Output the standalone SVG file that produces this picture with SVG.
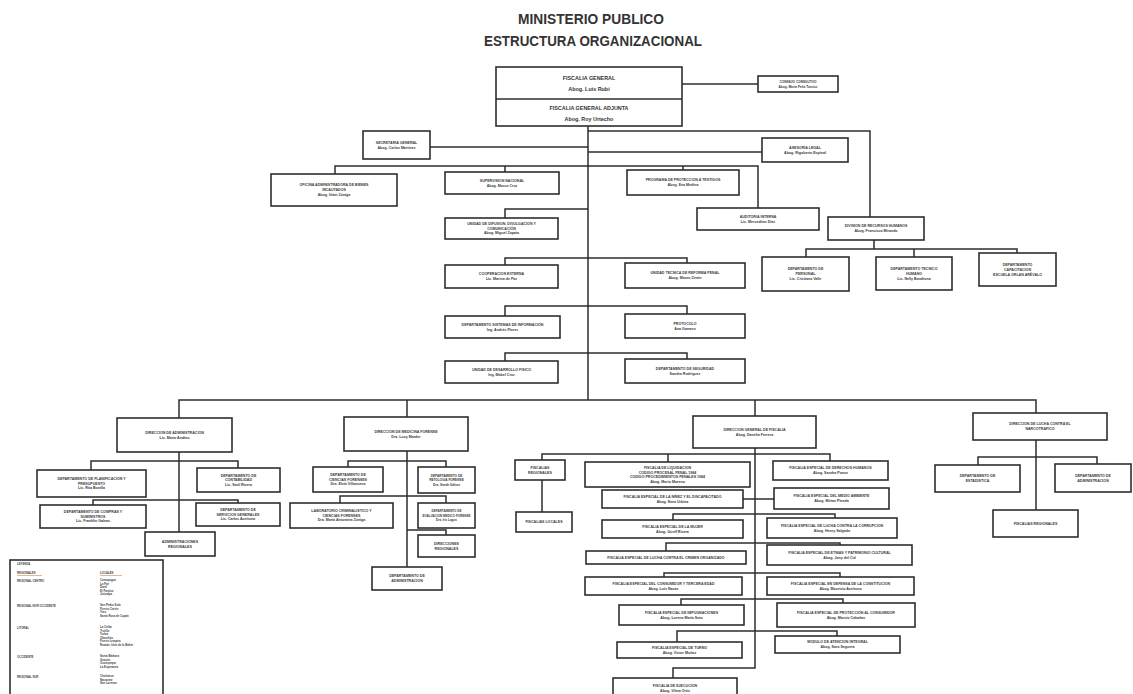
<svg xmlns="http://www.w3.org/2000/svg" width="1133" height="694" viewBox="0 0 1133 694">
<style>
.bg{fill:#ffffff}
.box{fill:#ffffff;stroke:#2e2e2e;stroke-width:1.6}
.ln{fill:none;stroke:#2e2e2e;stroke-width:1.5}
.title{font-family:"Liberation Sans",Arial,sans-serif;font-weight:bold;font-size:14px;fill:#333;text-anchor:middle}
.t{font-family:"Liberation Sans",Arial,sans-serif;font-weight:bold;font-size:3.6px;fill:#3a3a3a;text-anchor:middle}
.tb{font-family:"Liberation Sans",Arial,sans-serif;font-weight:bold;font-size:5.4px;fill:#333;text-anchor:middle}
.tl{font-family:"Liberation Sans",Arial,sans-serif;font-weight:bold;font-size:2.8px;fill:#444}
</style>
<rect class="bg" x="0" y="0" width="1133" height="694"/>
<g id="title">
<text class="title" x="591" y="24" textLength="146" lengthAdjust="spacingAndGlyphs">MINISTERIO PUBLICO</text>
<text class="title" x="593" y="46" textLength="218" lengthAdjust="spacingAndGlyphs">ESTRUCTURA ORGANIZACIONAL</text>
</g>
<g id="connectors">
<path class="ln" d="M682 84H758"/>
<path class="ln" d="M588 126V400"/>
<path class="ln" d="M430 147H588"/>
<path class="ln" d="M588 152H762"/>
<path class="ln" d="M588 131H870V217"/>
<path class="ln" d="M335 174V166H758V208M505 166V172M683 166V170"/>
<path class="ln" d="M874 240V249M806 257V249H1017V253M914 249V257"/>
<path class="ln" d="M588 209H505V218"/>
<path class="ln" d="M505 265V258H687V263"/>
<path class="ln" d="M505 316V306H687V314"/>
<path class="ln" d="M505 361V353H687V359"/>
<path class="ln" d="M179 418V400H1036V413M407 400V417M755 400V416"/>
<path class="ln" d="M179 452V532M91 470V461H238V468M93 505V500H238V503"/>
<path class="ln" d="M407 451V567M348 467V461H446V467M340 503V496H446V503M407 530H446V535"/>
<path class="ln" d="M755 448V668H673V678M542 460V454H830V461M668 454V462M542 480V512"/>
<path class="ln" d="M743 499H774"/>
<path class="ln" d="M673 520V514H835V518"/>
<path class="ln" d="M666 551V543H840V545"/>
<path class="ln" d="M664 577V573H840V577"/>
<path class="ln" d="M681 605V599H843V603"/>
<path class="ln" d="M677 642V631H837V636"/>
<path class="ln" d="M1036 440V510M978 465V457H1097V464"/>
</g>
<g id="fiscalia_general">
<rect class="box" x="496" y="67" width="186" height="59"/>
<path class="ln" d="M496 99H682"/>
<text class="tb" x="589" y="80"><tspan x="589">FISCALIA GENERAL</tspan><tspan x="589" dy="11">Abog. Luis Rubí</tspan></text>
<text class="tb" x="589" y="110"><tspan x="589">FISCALIA GENERAL ADJUNTA</tspan><tspan x="589" dy="11">Abog. Roy Urtecho</tspan></text>
</g>
<g id="consejo"><rect class="box" x="758" y="76" width="80" height="16"/>
<text class="t" style="font-size:3.2px" x="798" y="83"><tspan x="798">CONSEJO CONSULTIVO</tspan><tspan x="798" dy="4.5">Abog. María Peña Turcios</tspan></text></g>
<g id="secretaria"><rect class="box" x="363" y="131" width="67" height="28"/>
<text class="t" x="396.5" y="143.9"><tspan x="396.5">SECRETARIA GENERAL</tspan><tspan x="396.5" dy="5">Abog. Carlos Martínez</tspan></text></g>
<g id="asesoria"><rect class="box" x="762" y="138" width="86" height="24"/>
<text class="t" x="805" y="148.9"><tspan x="805">ASESORIA LEGAL</tspan><tspan x="805" dy="5">Abog. Rigoberto Espinal</tspan></text></g>
<g id="bienes"><rect class="box" x="271" y="174" width="126" height="32"/>
<text class="t" x="334" y="186.4"><tspan x="334">OFICINA ADMINISTRADORA DE BIENES</tspan><tspan x="334" dy="5">INCAUTADOS</tspan><tspan x="334" dy="5">Abog. Irlam Zúniga</tspan></text></g>
<g id="supervision"><rect class="box" x="445" y="172" width="114" height="22"/>
<text class="t" x="502" y="181.9"><tspan x="502">SUPERVISION NACIONAL</tspan><tspan x="502" dy="5">Abog. Marco Cruz</tspan></text></g>
<g id="proteccion"><rect class="box" x="627" y="170" width="112" height="25"/>
<text class="t" x="683" y="181.4"><tspan x="683">PROGRAMA DE PROTECCION A TESTIGOS</tspan><tspan x="683" dy="5">Abog. Eva Medina</tspan></text></g>
<g id="auditoria"><rect class="box" x="697" y="208" width="122" height="22"/>
<text class="t" x="758" y="217.9"><tspan x="758">AUDITORIA INTERNA</tspan><tspan x="758" dy="5">Lic. Merceditas Díaz</tspan></text></g>
<g id="rrhh"><rect class="box" x="828" y="217" width="96" height="23"/>
<text class="t" x="876" y="227.4"><tspan x="876">DIVISION DE RECURSOS HUMANOS</tspan><tspan x="876" dy="5">Abog. Francisco Mirando</tspan></text></g>
<g id="personal"><rect class="box" x="762" y="257" width="87" height="34"/>
<text class="t" x="805.5" y="270.4"><tspan x="805.5">DEPARTAMENTO DE</tspan><tspan x="805.5" dy="5">PERSONAL</tspan><tspan x="805.5" dy="5">Lic. Cristiana Valle</tspan></text></g>
<g id="tecnico_humano"><rect class="box" x="876" y="257" width="76" height="33"/>
<text class="t" x="914" y="269.9"><tspan x="914">DEPARTAMENTO TECNICO</tspan><tspan x="914" dy="5">HUMANO</tspan><tspan x="914" dy="5">Lic. Nelly Barahona</tspan></text></g>
<g id="capacitacion"><rect class="box" x="979" y="253" width="77" height="33"/>
<text class="t" x="1017.5" y="265.9"><tspan x="1017.5">DEPARTAMENTO</tspan><tspan x="1017.5" dy="5">CAPACITACION</tspan><tspan x="1017.5" dy="5">ESCUELA ORLAN ARÉVALO</tspan></text></g>
<g id="informacion"><rect class="box" x="445" y="218" width="113" height="21"/>
<text class="t" x="501.5" y="225.4"><tspan x="501.5">UNIDAD DE DIFUSION, DIVULGACION Y</tspan><tspan x="501.5" dy="4.5">COMUNICACIÓN</tspan><tspan x="501.5" dy="4.5">Abog. Miguel Zapata</tspan></text></g>
<g id="cooperacion"><rect class="box" x="445" y="265" width="113" height="23"/>
<text class="t" x="501.5" y="275.4"><tspan x="501.5">COOPERACION EXTERNA</tspan><tspan x="501.5" dy="5">Lic. Marina de Paz</tspan></text></g>
<g id="reforma"><rect class="box" x="625" y="263" width="120" height="25"/>
<text class="t" x="685" y="274.4"><tspan x="685">UNIDAD TECNICA DE REFORMA PENAL</tspan><tspan x="685" dy="5">Abog. Mauro Zerón</tspan></text></g>
<g id="sistemas"><rect class="box" x="445" y="316" width="115" height="22"/>
<text class="t" x="502.5" y="325.9"><tspan x="502.5">DEPARTAMENTO SISTEMAS DE INFORMACION</tspan><tspan x="502.5" dy="5">Ing. Andrés Flores</tspan></text></g>
<g id="protocolo"><rect class="box" x="625" y="314" width="120" height="24"/>
<text class="t" x="685" y="324.9"><tspan x="685">PROTOCOLO</tspan><tspan x="685" dy="5">Ana Gamero</tspan></text></g>
<g id="desarrollo"><rect class="box" x="445" y="361" width="113" height="22"/>
<text class="t" x="501.5" y="370.9"><tspan x="501.5">UNIDAD DE DESARROLLO FISICO</tspan><tspan x="501.5" dy="5">Ing. Mabel Cruz</tspan></text></g>
<g id="seguridad"><rect class="box" x="625" y="359" width="120" height="24"/>
<text class="t" x="685" y="369.9"><tspan x="685">DEPARTAMENTO DE SEGURIDAD</tspan><tspan x="685" dy="5">Sandra Rodríguez</tspan></text></g>
<g id="dir_administracion"><rect class="box" x="117" y="418" width="115" height="34"/>
<text class="t" x="174.5" y="433.9"><tspan x="174.5">DIRECCION DE ADMINISTRACION</tspan><tspan x="174.5" dy="5">Lic. Mario Andino</tspan></text></g>
<g id="dir_medicina"><rect class="box" x="344" y="417" width="124" height="34"/>
<text class="t" x="406" y="432.9"><tspan x="406">DIRECCION DE MEDICINA FORENSE</tspan><tspan x="406" dy="5">Dra. Lucy Marder</tspan></text></g>
<g id="dir_fiscalia"><rect class="box" x="693" y="416" width="123" height="32"/>
<text class="t" x="754.5" y="430.9"><tspan x="754.5">DIRECCION GENERAL DE FISCALIA</tspan><tspan x="754.5" dy="5">Abog. Danelia Ferrera</tspan></text></g>
<g id="dir_narcotrafico"><rect class="box" x="973" y="413" width="134" height="27"/>
<text class="t" x="1040" y="425.4"><tspan x="1040">DIRECCION DE LUCHA CONTRA EL</tspan><tspan x="1040" dy="5">NARCOTRAFICO</tspan></text></g>
<g id="planificacion"><rect class="box" x="37" y="470" width="109" height="27"/>
<text class="t" x="91.5" y="480.4"><tspan x="91.5">DEPARTAMENTO DE PLANIFICACION Y</tspan><tspan x="91.5" dy="4.5">PRESUPUESTO</tspan><tspan x="91.5" dy="4.5">Lic. Rita Bonilla</tspan></text></g>
<g id="contabilidad"><rect class="box" x="197" y="468" width="83" height="24"/>
<text class="t" x="238.5" y="476.9"><tspan x="238.5">DEPARTAMENTO DE</tspan><tspan x="238.5" dy="4.5">CONTABILIDAD</tspan><tspan x="238.5" dy="4.5">Lic. Saúl Rivera</tspan></text></g>
<g id="compras"><rect class="box" x="40" y="505" width="106" height="23"/>
<text class="t" x="93" y="513.4"><tspan x="93">DEPARTAMENTO DE COMPRAS Y</tspan><tspan x="93" dy="4.5">SUMINISTROS</tspan><tspan x="93" dy="4.5">Lic. Franklin Galeas</tspan></text></g>
<g id="servicios"><rect class="box" x="196" y="503" width="84" height="23"/>
<text class="t" x="238" y="511.4"><tspan x="238">DEPARTAMENTO DE</tspan><tspan x="238" dy="4.5">SERVICIOS GENERALES</tspan><tspan x="238" dy="4.5">Lic. Carlos Aceituno</tspan></text></g>
<g id="adm_regionales"><rect class="box" x="145" y="532" width="70" height="24"/>
<text class="t" x="180" y="542.9"><tspan x="180">ADMINISTRACIONES</tspan><tspan x="180" dy="5">REGIONALES</tspan></text></g>
<g id="ciencias"><rect class="box" x="313" y="467" width="70" height="25"/>
<text class="t" x="348" y="476.4"><tspan x="348">DEPARTAMENTO DE</tspan><tspan x="348" dy="4.5">CIENCIAS FORENSES</tspan><tspan x="348" dy="4.5">Dra. Elvia Villanueva</tspan></text></g>
<g id="patologia"><rect class="box" x="418" y="467" width="57" height="26"/>
<text class="t" style="font-size:3.2px" x="446.5" y="476.9"><tspan x="446.5">DEPARTAMENTO DE</tspan><tspan x="446.5" dy="4.5">PATOLOGIA FORENSE</tspan><tspan x="446.5" dy="4.5">Dra. Sarah Gálvez</tspan></text></g>
<g id="laboratorio"><rect class="box" x="290" y="503" width="103" height="25"/>
<text class="t" x="341.5" y="512.4"><tspan x="341.5">LABORATORIO CRIMINALISTICO Y</tspan><tspan x="341.5" dy="4.5">CIENCIAS FORENSES</tspan><tspan x="341.5" dy="4.5">Dra. María Antonieta Zúniga</tspan></text></g>
<g id="evaluacion"><rect class="box" x="418" y="503" width="57" height="25"/>
<text class="t" style="font-size:3px" x="446.5" y="512.4"><tspan x="446.5">DEPARTAMENTO DE</tspan><tspan x="446.5" dy="4.5">EVALUACION MEDICO FORENSE</tspan><tspan x="446.5" dy="4.5">Dra. Iris Lagos</tspan></text></g>
<g id="dir_regionales"><rect class="box" x="418" y="535" width="57" height="22"/>
<text class="t" x="446.5" y="544.9"><tspan x="446.5">DIRECCIONES</tspan><tspan x="446.5" dy="5">REGIONALES</tspan></text></g>
<g id="mf_administracion"><rect class="box" x="372" y="567" width="70" height="23"/>
<text class="t" x="407" y="577.4"><tspan x="407">DEPARTAMENTO DE</tspan><tspan x="407" dy="5">ADMINISTRACION</tspan></text></g>
<g id="fisc_regionales"><rect class="box" x="515" y="460" width="50" height="20"/>
<text class="t" x="540" y="468.9"><tspan x="540">FISCALIAS</tspan><tspan x="540" dy="5">REGIONALES</tspan></text></g>
<g id="fisc_locales"><rect class="box" x="516" y="512" width="56" height="20"/>
<text class="t" x="544" y="523.4">FISCALIAS LOCALES</text></g>
<g id="liquidacion"><rect class="box" x="585" y="462" width="165" height="25"/>
<text class="t" x="667.5" y="469.2"><tspan x="667.5">FISCALIA DE LIQUIDACION</tspan><tspan x="667.5" dy="4.5">CODIGO PROCESAL PENAL 1984</tspan><tspan x="667.5" dy="4.5">CODIGO PROCEDIMIENTOS PENALES 1984</tspan><tspan x="667.5" dy="4.5">Abog. Mario Moreno</tspan></text></g>
<g id="ddhh"><rect class="box" x="773" y="461" width="115" height="19"/>
<text class="t" x="830.5" y="469.4"><tspan x="830.5">FISCALIA ESPECIAL DE DERECHOS HUMANOS</tspan><tspan x="830.5" dy="5">Abog. Sandra Ponce</tspan></text></g>
<g id="ninez"><rect class="box" x="602" y="490" width="141" height="18"/>
<text class="t" x="672.5" y="497.9"><tspan x="672.5">FISCALIA ESPECIAL DE LA NIÑEZ Y EL DISCAPACITADO</tspan><tspan x="672.5" dy="5">Abog. Nora Urbina</tspan></text></g>
<g id="ambiente"><rect class="box" x="774" y="488" width="115" height="21"/>
<text class="t" x="831.5" y="497.4"><tspan x="831.5">FISCALIA ESPECIAL DEL MEDIO AMBIENTE</tspan><tspan x="831.5" dy="5">Abog. Mirian Pineda</tspan></text></g>
<g id="mujer"><rect class="box" x="602" y="520" width="141" height="18"/>
<text class="t" x="672.5" y="527.9"><tspan x="672.5">FISCALIA ESPECIAL DE LA MUJER</tspan><tspan x="672.5" dy="5">Abog. Gizell Rivera</tspan></text></g>
<g id="corrupcion"><rect class="box" x="767" y="518" width="130" height="20"/>
<text class="t" x="832" y="526.9"><tspan x="832">FISCALIA ESPECIAL DE LUCHA CONTRA LA CORRUPCION</tspan><tspan x="832" dy="5">Abog. Henry Salgado</tspan></text></g>
<g id="crimen"><rect class="box" x="586" y="551" width="160" height="13"/>
<text class="t" x="666" y="558.9">FISCALIA ESPECIAL DE LUCHA CONTRA EL CRIMEN ORGANIZADO</text></g>
<g id="etnias"><rect class="box" x="767" y="545" width="145" height="20"/>
<text class="t" x="839.5" y="553.9"><tspan x="839.5">FISCALIA ESPECIAL DE ETNIAS Y PATRIMONIO CULTURAL</tspan><tspan x="839.5" dy="5">Abog. Jany del Cid</tspan></text></g>
<g id="consumidor"><rect class="box" x="585" y="577" width="157" height="18"/>
<text class="t" x="663.5" y="584.9"><tspan x="663.5">FISCALIA ESPECIAL DEL CONSUMIDOR Y TERCERA EDAD</tspan><tspan x="663.5" dy="5">Abog. Luis Navas</tspan></text></g>
<g id="constitucion"><rect class="box" x="767" y="577" width="147" height="18"/>
<text class="t" x="840.5" y="584.9"><tspan x="840.5">FISCALIA ESPECIAL EN DEFENSA DE LA CONSTITUCION</tspan><tspan x="840.5" dy="5">Abog. Mauricio Aceituno</tspan></text></g>
<g id="impugnaciones"><rect class="box" x="619" y="605" width="125" height="20"/>
<text class="t" x="681.5" y="613.9"><tspan x="681.5">FISCALIA ESPECIAL DE IMPUGNACIONES</tspan><tspan x="681.5" dy="5">Abog. Lorena María Soto</tspan></text></g>
<g id="proteccion_consumidor"><rect class="box" x="777" y="603" width="138" height="24"/>
<text class="t" x="846" y="613.9"><tspan x="846">FISCALIA ESPECIAL DE PROTECCION AL CONSUMIDOR</tspan><tspan x="846" dy="5">Abog. Marcio Cabañas</tspan></text></g>
<g id="turno"><rect class="box" x="617" y="642" width="125" height="16"/>
<text class="t" x="679.5" y="648.9"><tspan x="679.5">FISCALIA ESPECIAL DE TURNO</tspan><tspan x="679.5" dy="5">Abog. Victor Muñoz</tspan></text></g>
<g id="modulo"><rect class="box" x="775" y="636" width="125" height="17"/>
<text class="t" x="837.5" y="643.4"><tspan x="837.5">MODULO DE ATENCION INTEGRAL</tspan><tspan x="837.5" dy="5">Abog. Sara Seguera</tspan></text></g>
<g id="ejecucion"><rect class="box" x="613" y="678" width="124" height="20"/>
<text class="t" x="675" y="686.9"><tspan x="675">FISCALIA DE EJECUCION</tspan><tspan x="675" dy="5">Abog. Vilma Ortiz</tspan></text></g>
<g id="narco_estadistica"><rect class="box" x="935" y="465" width="85" height="27"/>
<text class="t" x="977.5" y="477.4"><tspan x="977.5">DEPARTAMENTO DE</tspan><tspan x="977.5" dy="5">ESTADISTICA</tspan></text></g>
<g id="narco_administracion"><rect class="box" x="1055" y="464" width="76" height="28"/>
<text class="t" x="1093" y="476.9"><tspan x="1093">DEPARTAMENTO DE</tspan><tspan x="1093" dy="5">ADMINISTRACION</tspan></text></g>
<g id="narco_regionales"><rect class="box" x="993" y="510" width="85" height="27"/>
<text class="t" x="1035.5" y="524.9">FISCALIAS REGIONALES</text></g>
<g id="leyenda">
<rect class="box" x="10" y="560" width="153" height="140"/>
<text class="tl" x="17" y="565">LEYENDA</text>
<text class="tl" x="17" y="574">REGIONALES</text>
<text class="tl" x="100" y="574">LOCALES</text>
<path d="M17 575.5H42M100 575.5H122" stroke="#d08a3a" stroke-width="0.6"/>
<text class="tl" x="17" y="582">REGIONAL CENTRO</text>
<text class="tl" x="100" y="581"><tspan x="100">Comayagua</tspan><tspan x="100" dy="3.6">La Paz</tspan><tspan x="100" dy="3.6">Danlí</tspan><tspan x="100" dy="3.6">El Paraíso</tspan><tspan x="100" dy="3.6">Juticalpa</tspan></text>
<text class="tl" x="17" y="607">REGIONAL NOR OCCIDENTE</text>
<text class="tl" x="100" y="606"><tspan x="100">San Pedro Sula</tspan><tspan x="100" dy="3.6">Puerto Cortés</tspan><tspan x="100" dy="3.6">Yoro</tspan><tspan x="100" dy="3.6">Santa Rosa de Copán</tspan></text>
<text class="tl" x="17" y="629">LITORAL</text>
<text class="tl" x="100" y="628"><tspan x="100">La Ceiba</tspan><tspan x="100" dy="3.6">Trujillo</tspan><tspan x="100" dy="3.6">Tocoa</tspan><tspan x="100" dy="3.6">Olanchito</tspan><tspan x="100" dy="3.6">Puerto Lempira</tspan><tspan x="100" dy="3.6">Roatán, Islas de la Bahía</tspan></text>
<text class="tl" x="17" y="658">OCCIDENTE</text>
<text class="tl" x="100" y="657"><tspan x="100">Santa Bárbara</tspan><tspan x="100" dy="3.6">Gracias</tspan><tspan x="100" dy="3.6">Ocotepeque</tspan><tspan x="100" dy="3.6">La Esperanza</tspan></text>
<text class="tl" x="17" y="678">REGIONAL SUR</text>
<text class="tl" x="100" y="677"><tspan x="100">Choluteca</tspan><tspan x="100" dy="3.6">Nacaome</tspan><tspan x="100" dy="3.6">San Lorenzo</tspan></text>
</g>
</svg>
